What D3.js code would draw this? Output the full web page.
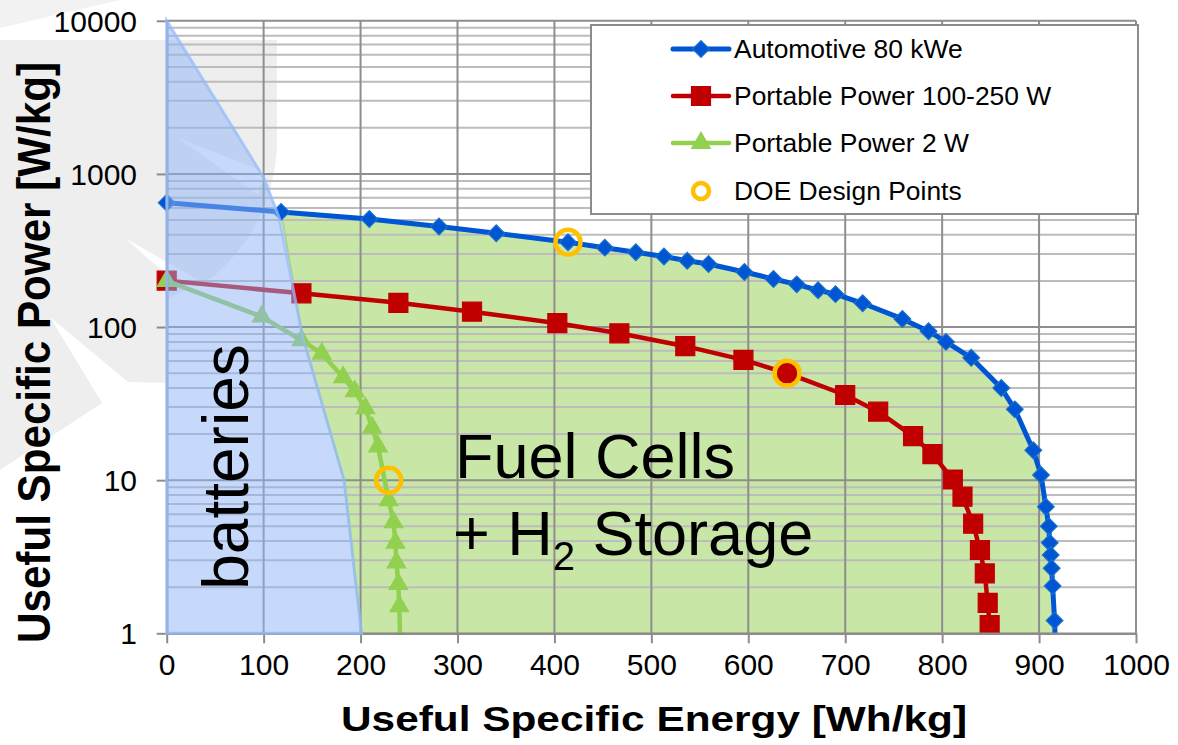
<!DOCTYPE html>
<html><head><meta charset="utf-8">
<script src="https://cdn.jsdelivr.net/npm/d3@7"></script>
<style>
body{margin:0;background:#fff}
svg{display:block}
text{font-family:"Liberation Sans",Arial,sans-serif}
</style>
</head><body>
<svg id="c" width="1178" height="745"></svg>
<script>
// ---------- data ----------
const energyTicks=[0,100,200,300,400,500,600,700,800,900,1000];
const powerTicks=[1,10,100,1000,10000];
const seriesNames=["Automotive 80 kWe","Portable Power 100-250 W","Portable Power 2 W","DOE Design Points"];

const autoE=[0,118,209,281,340,414,452,484,513,537,559,596,626,650,672,690,718,759,786,804,830,861,875,894,902,907,910,911,912,913,914,916,917];
const autoP=[648,565,508,453,410,358,330,308,289,271,258,229,206,190,174,164,143,113,94,80,63,40,29,15.7,10.8,6.7,5.0,3.9,3.25,2.66,2.04,1.21,0.8];

const portE=[0,139,239,315,403,467,535,595,640,700,734,770,790,811,821,832,839,844,847,849];
const portP=[201,166,144,126,106,91,75,61,50,36,28,19.4,14.8,10.1,7.8,5.2,3.5,2.46,1.58,1.13];

const p2E=[0,98,139,160,182,194,205,212,218,229,234,236,237,239,240,241];
const p2P=[200,117,82,67,47,38,29.5,22,16.6,7.4,5.3,3.9,2.9,2.1,1.5,0.8];

const doeE=[414,640,229];
const doeP=[358,50,10];

// region outlines
const battE=[0,0,100,116,140,183,201];
const battP=[1,10000,950,520,88,10,1];
const fcEdgeE=[916,201,183,140];
const fcEdgeP=[1,1,10,88];

// ---------- setup ----------
const svg=d3.select('#c');
const FONT='"Liberation Sans",Arial,sans-serif';
const x=d3.scaleLinear().domain([0,1000]).range([166.7,1136]);
const y=d3.scaleLog().domain([1,10000]).range([633.3,20.8]);
const line=d3.line().x(d=>x(d[0])).y(d=>y(d[1]));
const zip=(E,P)=>E.map((e,i)=>[e,P[i]]);

svg.append('rect').attr('width',1178).attr('height',745).attr('fill','#fff');
svg.append('clipPath').attr('id','plot').append('rect')
  .attr('x',0).attr('y',0).attr('width',1178).attr('height',y(1));

// decorative background logo
const logo=svg.append('g');
logo.append('path').attr('d','M0,0 L120,0 L0,28 Z').attr('fill','#f2f2f2');
logo.append('path').attr('d','M0,40 L277,40 L277,150 C272,205 250,245 213,277 L165,300 L165,383 L128,382 L50,317 L102,403 L0,470 Z').attr('fill','#eeeeee');
logo.append('path').attr('d','M178,138 L266,172 L258,195 Z').attr('fill','#fff');
logo.append('path').attr('d','M125,238 L198,280 L186,292 Z').attr('fill','#fff');

// fuel cell region
const fcPts=zip(autoE.slice(1,-1),autoP.slice(1,-1)).concat(zip(fcEdgeE,fcEdgeP));
svg.append('path').attr('d',line(fcPts)+'Z')
  .attr('fill','#c8e6a6').attr('stroke','#a9d68a').attr('stroke-width',2);

// grid
const grid=svg.append('g');
const minor=[];
[1,10,100,1000].forEach(d=>{for(let k=2;k<=9;k++)minor.push(d*k);});
grid.selectAll('.hmin').data(minor).join('line')
  .attr('x1',x(0)).attr('x2',x(1000)).attr('y1',d=>y(d)).attr('y2',d=>y(d))
  .attr('stroke','#bcbcbc').attr('stroke-width',2);
grid.selectAll('.hmaj').data(powerTicks.slice(1)).join('line')
  .attr('x1',x(0)).attr('x2',x(1000)).attr('y1',d=>y(d)).attr('y2',d=>y(d))
  .attr('stroke','#8e8e8e').attr('stroke-width',2);
grid.selectAll('.v').data(energyTicks.slice(1)).join('line')
  .attr('x1',d=>x(d)).attr('x2',d=>x(d)).attr('y1',y(1)).attr('y2',y(10000))
  .attr('stroke','#8e8e8e').attr('stroke-width',2);

// series
const diamond=d3.symbol(d3.symbolSquare,140)();
const square=d3.symbol(d3.symbolSquare,361)();
const tri=d3.symbol(d3.symbolTriangle,150)();
const series=[
  {E:autoE,P:autoP,color:'#0055d4',w:5,shape:diamond,rot:45,stroke:'#1a72c8'},
  {E:portE,P:portP,color:'#c00000',w:4.5,shape:square,rot:0,stroke:'#c00000'},
  {E:p2E,P:p2P,color:'#92d050',w:4.5,shape:tri,rot:0,stroke:'#92d050'}
];
series.forEach(s=>{
  const pts=zip(s.E,s.P);
  const g=svg.append('g').attr('clip-path','url(#plot)');
  g.append('path').attr('d',line(pts)).attr('fill','none').attr('stroke',s.color)
    .attr('stroke-width',s.w).attr('stroke-linejoin','round');
  g.selectAll('path.m').data(pts).join('path').attr('class','m')
    .attr('d',s.shape)
    .attr('transform',d=>`translate(${x(d[0])},${y(d[1])}) rotate(${s.rot})`)
    .attr('fill',s.color).attr('stroke',s.stroke).attr('stroke-width',1.2);
});

// axes
const xAxis=svg.append('g').attr('transform',`translate(0,${y(1)})`)
  .call(d3.axisBottom(x).tickValues(energyTicks).tickSize(10).tickSizeOuter(0).tickFormat(d3.format('d')));
const yAxis=svg.append('g').attr('transform',`translate(${x(0)},0)`)
  .call(d3.axisLeft(y).tickValues(powerTicks).tickSize(10).tickSizeOuter(0).tickFormat(d3.format('d')));
[xAxis,yAxis].forEach(a=>{
  a.attr('font-family',FONT).attr('font-size',30);
  a.select('.domain').attr('stroke','#8c8c8c').attr('stroke-width',2.5);
  a.selectAll('.tick line').attr('stroke','#8c8c8c').attr('stroke-width',2);
  a.selectAll('.tick text').attr('fill','#000');
});
xAxis.selectAll('.tick text').attr('y',20.4).attr('dy','0.71em');
yAxis.selectAll('.tick text').attr('x',-29.7).attr('dy','0.35em');

// battery region (translucent, over the lines)
svg.append('path').attr('d',line(zip(battE,battP))+'Z')
  .attr('fill','rgba(141,180,245,0.5)').attr('stroke','rgba(150,188,248,0.75)').attr('stroke-width',3);

// DOE design points
svg.append('g').selectAll('circle').data(zip(doeE,doeP)).join('circle')
  .attr('cx',d=>x(d[0])).attr('cy',d=>y(d[1])).attr('r',12.5)
  .attr('fill','none').attr('stroke','#ffc000').attr('stroke-width',4.5);

// annotations
svg.append('text').attr('transform','translate(248,467) rotate(-90)')
  .attr('text-anchor','middle').attr('font-size',64).text('batteries');
svg.append('text').attr('x',455).attr('y',478).attr('font-size',63).text('Fuel Cells');
const h2=svg.append('text').attr('x',453).attr('y',555).attr('font-size',63).style('white-space','pre');
h2.append('tspan').text('+ H');
h2.append('tspan').attr('font-size',40).attr('dy',15).text('2');
h2.append('tspan').attr('dy',-15).text(' Storage');

// axis titles
svg.append('text').attr('x',654).attr('y',731).attr('text-anchor','middle')
  .attr('font-size',35).attr('font-weight','bold')
  .attr('textLength',626).attr('lengthAdjust','spacingAndGlyphs')
  .text('Useful Specific Energy [Wh/kg]');
svg.append('text').attr('transform','translate(50,352.5) rotate(-90)').attr('text-anchor','middle')
  .attr('font-size',46).attr('font-weight','bold')
  .attr('textLength',581).attr('lengthAdjust','spacingAndGlyphs')
  .text('Useful Specific Power [W/kg]');

// legend
const lg=svg.append('g');
lg.append('rect').attr('x',591).attr('y',25).attr('width',547).attr('height',189)
  .attr('fill','#fff').attr('stroke','#8c8c8c').attr('stroke-width',2);
const rowY=[49,96,143,191];
series.forEach((s,i)=>{
  lg.append('line').attr('x1',673).attr('x2',729).attr('y1',rowY[i]).attr('y2',rowY[i])
    .attr('stroke',s.color).attr('stroke-width',s.w).attr('stroke-linecap','round');
  lg.append('path').attr('d',s.shape).attr('transform',`translate(701,${rowY[i]}) rotate(${s.rot})`)
    .attr('fill',s.color).attr('stroke',s.stroke).attr('stroke-width',1.2);
});
lg.append('circle').attr('cx',701).attr('cy',rowY[3]).attr('r',8)
  .attr('fill','none').attr('stroke','#ffc000').attr('stroke-width',4.5);
seriesNames.forEach((n,i)=>{
  const t=lg.append('text').attr('x',734).attr('y',rowY[i]).attr('dy','0.35em')
    .attr('font-size',25).text(n);
  const L=t.node().getComputedTextLength();
  t.attr('textLength',L*1.057).attr('lengthAdjust','spacingAndGlyphs');
});
</script>
</body></html>
